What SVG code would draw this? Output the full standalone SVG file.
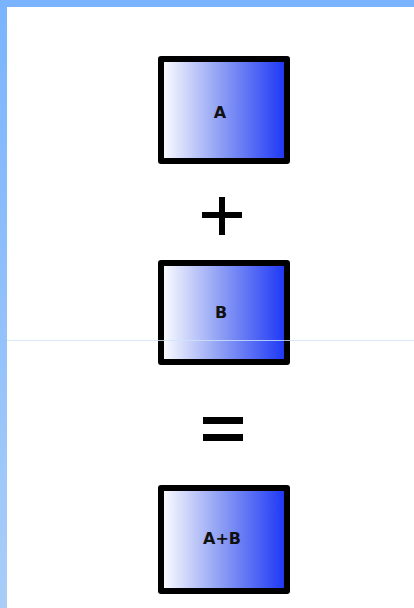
<svg xmlns="http://www.w3.org/2000/svg" width="414" height="608" viewBox="0 0 414 608">
<style>
.box{stroke:#000;stroke-width:6;stroke-linejoin:round;fill:url(#g)}
.lbl{font-family:"DejaVu Sans",Verdana,sans-serif;font-weight:bold;font-size:16px;fill:#111;text-anchor:middle}
.op{fill:#000}
</style>
<defs>
<linearGradient id="g" x1="0" y1="0" x2="1" y2="0">
<stop offset="0" stop-color="#ffffff"/>
<stop offset="0.45" stop-color="#93a3f4"/>
<stop offset="1" stop-color="#1a35f5"/>
</linearGradient>
<linearGradient id="lb" x1="0" y1="0" x2="0" y2="1">
<stop offset="0" stop-color="#7ab4ff"/>
<stop offset="1" stop-color="#a9cdf8"/>
</linearGradient>
</defs>
<rect width="414" height="608" fill="#fff"/>
<rect x="0" y="0" width="414" height="7" fill="#7ab4ff"/>
<rect x="0" y="0" width="7" height="608" fill="url(#lb)"/>
<g id="nodeA">
<rect class="box" x="161" y="59" width="126" height="102"/>
<text class="lbl" x="220" y="118">A</text>
</g>
<g id="plus">
<rect class="op" x="202" y="212" width="40" height="6"/>
<rect class="op" x="219" y="197" width="6" height="38"/>
</g>
<g id="nodeB">
<rect class="box" x="161" y="263" width="126" height="99"/>
<text class="lbl" x="221" y="318">B</text>
</g>
<g id="equals">
<rect class="op" x="203" y="417" width="40" height="7"/>
<rect class="op" x="203" y="434" width="40" height="7"/>
</g>
<g id="nodeAB">
<rect class="box" x="161" y="488" width="126" height="103"/>
<text class="lbl" x="222" y="544">A+B</text>
</g>
<line x1="7" y1="340.5" x2="414" y2="340.5" stroke="#cfe3fb" stroke-width="1" stroke-opacity="0.8"/>
<g id="connectors"/>
</svg>
